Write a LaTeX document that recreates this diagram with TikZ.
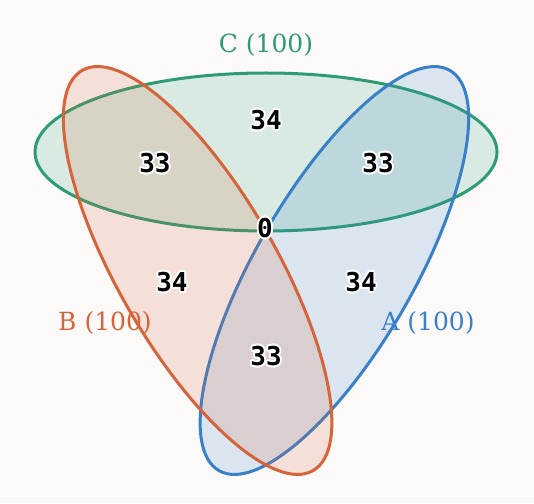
\documentclass[tikz,border=0pt]{standalone}
\usepackage{fontspec}
\usepackage{contour}
\usetikzlibrary{shapes.geometric}
\setmainfont{DejaVu Serif}
\newfontfamily\countfont{DejaVu Sans Mono}
\contourlength{1.8pt}
\contournumber{16}
\definecolor{paper}{HTML}{FBFAF9}
\definecolor{colA}{HTML}{3A80C8}
\definecolor{colB}{HTML}{D6643A}
\definecolor{colC}{HTML}{2E9C72}

\begin{document}
\begin{tikzpicture}[x=1pt, y=1pt,
    set/.style = {ellipse, minimum width=462pt, minimum height=158pt, inner sep=0pt, line width=3pt, fill opacity=.17, draw opacity=1},
    count/.style = {font=\countfont\fontsize{26}{26}\selectfont\bfseries},
    title/.style = {font=\fontsize{25}{25}\selectfont}]
    \fill[paper] (-266,-272) rectangle (268,231);
    \useasboundingbox (-266,-272) rectangle (268,231);
    % the three sets
    \node[set, draw=colC, fill=colC] (C) at (0,79) {};
    \node[set, draw=colA, fill=colA, rotate=60] (A) at (68.4,-39.5) {};
    \node[set, draw=colB, fill=colB, rotate=-60] (B) at (-68.4,-39.5) {};
    % set names
    \node[title, text=colC] (Cname) at (0,186) {C (100)};
    \node[title, text=colB] (Bname) at (-161,-92) {B (100)};
    \node[title, text=colA] (Aname) at (162,-92) {A (100)};
    % region counts
    \node[count] (nC) at (0,110) {\contour{white}{34}};
    \node[count] (nBC) at (-111,67) {\contour{white}{33}};
    \node[count] (nAC) at (112,67) {\contour{white}{33}};
    \node[count] (nABC) at (-1,2) {\contour{white}{0}};
    \node[count] (nB) at (-94,-52) {\contour{white}{34}};
    \node[count] (nA) at (95,-52) {\contour{white}{34}};
    \node[count] (nAB) at (0,-126) {\contour{white}{33}};
\end{tikzpicture}
\end{document}
